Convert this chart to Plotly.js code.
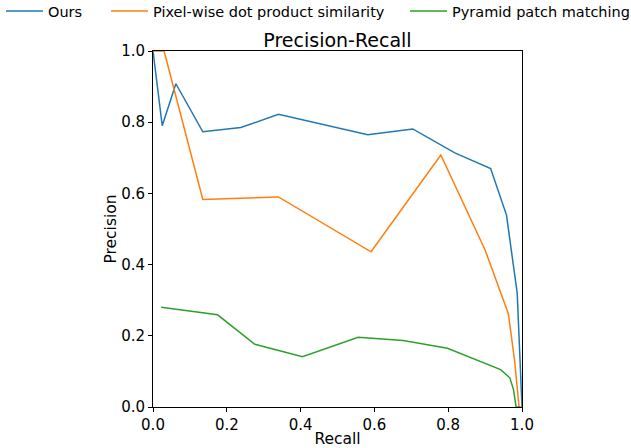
<!DOCTYPE html>
<html>
<head>
<meta charset="utf-8">
<script src="https://cdn.plot.ly/plotly-3.0.1.min.js"></script>
<style>html,body{margin:0;padding:0;background:#fff;}</style>
</head>
<body>
<div id="chart" style="width:631px;height:448px;"></div>
<script>
const oursRecall = [0.0, 0.025, 0.062, 0.135, 0.238, 0.34, 0.582, 0.704, 0.818, 0.915, 0.958, 0.987, 1.0];
const oursPrecision = [1.0, 0.79, 0.908, 0.773, 0.785, 0.822, 0.765, 0.781, 0.714, 0.670, 0.539, 0.32, 0.0];

const pixelRecall = [0.0, 0.03, 0.135, 0.34, 0.591, 0.78, 0.9, 0.963, 0.98, 0.992, 1.0];
const pixelPrecision = [1.0, 1.0, 0.583, 0.590, 0.436, 0.708, 0.441, 0.262, 0.13, 0.0, 0.0];

const pyramidRecall = [0.022, 0.175, 0.276, 0.405, 0.556, 0.678, 0.798, 0.942, 0.967, 0.977, 0.984, 0.995];
const pyramidPrecision = [0.280, 0.259, 0.176, 0.141, 0.196, 0.187, 0.165, 0.105, 0.082, 0.049, 0.0, 0.0];

const seriesNames = ["Ours", "Pixel-wise dot product similarity", "Pyramid patch matching"];
const tickVals = [0, 0.2, 0.4, 0.6, 0.8, 1.0];
const tickText = ["0.0", "0.2", "0.4", "0.6", "0.8", "1.0"];

const font = "DejaVu Sans, sans-serif";
const W = 631, H = 448;
const traces = [
  {x: oursRecall, y: oursPrecision, name: seriesNames[0], mode: "lines", line: {color: "#1f77b4", width: 1.5}, legend: "legend"},
  {x: pixelRecall, y: pixelPrecision, name: seriesNames[1], mode: "lines", line: {color: "#ff7f0e", width: 1.5}, legend: "legend2"},
  {x: pyramidRecall, y: pyramidPrecision, name: seriesNames[2], mode: "lines", line: {color: "#2ca02c", width: 1.5}, legend: "legend3"}
];
const axisCommon = {
  range: [0, 1], tickvals: tickVals, ticktext: tickText,
  showgrid: false, zeroline: false, showline: true, mirror: true,
  linecolor: "#000", linewidth: 1, ticks: "outside", ticklen: 4, tickwidth: 1, tickcolor: "#000",
  tickfont: {family: font, size: 15, color: "#000"}
};
function leg(px) {
  return {orientation: "h", x: px / W, xref: "container", xanchor: "left", y: 1 - 11 / H, yref: "container", yanchor: "middle",
    font: {family: font, size: 14.5, color: "#000"}, bgcolor: "rgba(0,0,0,0)", borderwidth: 0, itemwidth: 37};
}
const layout = {
  width: W, height: H,
  margin: {l: 153, r: 109, t: 51, b: 41, autoexpand: false},
  paper_bgcolor: "#fff", plot_bgcolor: "#fff",
  font: {family: font, color: "#000"},
  title: {text: "Precision-Recall", font: {family: font, size: 19, color: "#000"}, x: 0.5, xref: "paper", xanchor: "center", y: 1 - 40 / H, yref: "container", yanchor: "middle"},
  xaxis: Object.assign({}, axisCommon, {title: {text: "Recall", font: {family: font, size: 15.5}, standoff: 2}}),
  yaxis: Object.assign({}, axisCommon, {title: {text: "Precision", font: {family: font, size: 15.5}, standoff: 0}}),
  showlegend: true,
  legend: leg(1),
  legend2: leg(106),
  legend3: leg(405)
};
Plotly.newPlot("chart", traces, layout, {staticPlot: true, displayModeBar: false});
</script>
</body>
</html>
